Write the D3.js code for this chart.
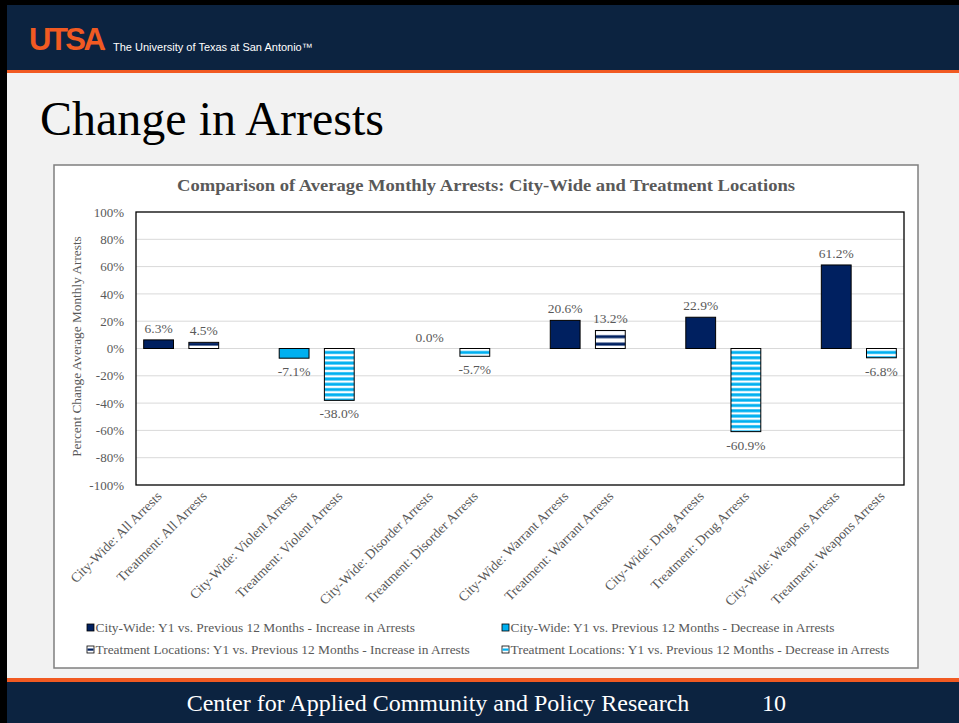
<!DOCTYPE html>
<html>
<head>
<meta charset="utf-8">
<script src="https://cdn.jsdelivr.net/npm/d3@7"></script>
<style>
  html, body { margin: 0; padding: 0; background: #000; }
  svg { display: block; }
</style>
</head>
<body>
<svg id="slide" width="959" height="723"></svg>
<script>
// Arrest change by type, Y1 vs previous 12 months
const arrestTypes = ['All', 'Violent', 'Disorder', 'Warrant', 'Drug', 'Weapons'];
const cityWideChange = [6.3, -7.1, 0.0, 20.6, 22.9, 61.2];
const treatmentChange = [4.5, -38.0, -5.7, 13.2, -60.9, -6.8];
const yTicks = [-100, -80, -60, -40, -20, 0, 20, 40, 60, 80, 100];
const legendLabels = [
  'City-Wide: Y1 vs. Previous 12 Months - Increase in Arrests',
  'City-Wide: Y1 vs. Previous 12 Months -  Decrease in Arrests',
  'Treatment Locations: Y1 vs. Previous 12 Months - Increase in Arrests',
  'Treatment Locations: Y1 vs. Previous 12 Months - Decrease in Arrests'
];

const NAVY = '#002060';
const SKY = '#00b0f0';
const GREY_TEXT = '#595959';
const SERIF = '"Liberation Serif", "Times New Roman", serif';
const SANS = '"Liberation Sans", Arial, sans-serif';

// flatten into bar records, with a blank slot between each pair
const bars = [];
const slots = [];
arrestTypes.forEach(function(t, i) {
  if (i > 0) slots.push('gap-' + i);
  bars.push({ key: 'cw-' + i, label: 'City-Wide: ' + t + ' Arrests', value: cityWideChange[i], site: 'cw' });
  bars.push({ key: 'tr-' + i, label: 'Treatment: ' + t + ' Arrests', value: treatmentChange[i], site: 'tr' });
  slots.push('cw-' + i, 'tr-' + i);
});

const svg = d3.select('#slide');

// page background
svg.append('rect').attr('x', 7).attr('y', 5).attr('width', 952).attr('height', 718).attr('fill', '#f2f2f2');

// header
svg.append('rect').attr('x', 7).attr('y', 5).attr('width', 952).attr('height', 65).attr('fill', '#0c2340');
svg.append('rect').attr('x', 7).attr('y', 70).attr('width', 952).attr('height', 3).attr('fill', '#f15a22');
svg.append('text')
  .attr('x', 29).attr('y', 50)
  .attr('font-family', SANS).attr('font-weight', 'bold')
  .attr('font-size', 31).attr('letter-spacing', -2.5)
  .attr('fill', '#f15a22')
  .text('UTSA');
svg.append('circle').attr('cx', 104).attr('cy', 49).attr('r', 1.3).attr('fill', '#f15a22');
svg.append('text')
  .attr('x', 113).attr('y', 51)
  .attr('font-family', SANS).attr('font-size', 11)
  .attr('fill', '#fff')
  .text('The University of Texas at San Antonio\u2122');

// slide title
svg.append('text')
  .attr('x', 40).attr('y', 135)
  .attr('font-family', SERIF).attr('font-size', 48)
  .attr('fill', '#000')
  .text('Change in Arrests');

// footer
svg.append('rect').attr('x', 7).attr('y', 678).attr('width', 952).attr('height', 4).attr('fill', '#f15a22');
svg.append('rect').attr('x', 7).attr('y', 682).attr('width', 952).attr('height', 41).attr('fill', '#0c2340');
svg.append('text')
  .attr('x', 438).attr('y', 711)
  .attr('text-anchor', 'middle')
  .attr('font-family', SERIF).attr('font-size', 24)
  .attr('fill', '#fff')
  .text('Center for Applied Community and Policy Research');
svg.append('text')
  .attr('x', 774).attr('y', 711)
  .attr('text-anchor', 'middle')
  .attr('font-family', SERIF).attr('font-size', 24)
  .attr('fill', '#fff')
  .text('10');

// chart container
svg.append('rect')
  .attr('x', 54).attr('y', 165).attr('width', 864).attr('height', 503)
  .attr('fill', '#fff').attr('stroke', '#7f7f7f').attr('stroke-width', 1.5);

// stripe patterns
const defs = svg.append('defs');
function stripes(id, color, period, band) {
  const p = defs.append('pattern')
    .attr('id', id).attr('patternUnits', 'userSpaceOnUse')
    .attr('width', 8).attr('height', period);
  p.append('rect').attr('width', 8).attr('height', period).attr('fill', '#fff');
  p.append('rect').attr('y', (period - band) / 2).attr('width', 8).attr('height', band).attr('fill', color);
}
stripes('navyStripe', NAVY, 7.4, 3);
stripes('skyStripe', SKY, 5.3, 3);

function fillFor(d) {
  if (d.site === 'cw') return d.value >= 0 ? NAVY : SKY;
  return d.value >= 0 ? 'url(#navyStripe)' : 'url(#skyStripe)';
}

const plot = { left: 136, right: 904, top: 212, bottom: 485 };

const x = d3.scaleBand()
  .domain(slots)
  .range([plot.left, plot.right])
  .paddingInner(0.34)
  .paddingOuter(0.17);

const y = d3.scaleLinear()
  .domain([-100, 100])
  .range([plot.bottom, plot.top]);

// chart title
svg.append('text')
  .attr('x', 486).attr('y', 191)
  .attr('text-anchor', 'middle')
  .attr('font-family', SERIF).attr('font-weight', 'bold').attr('font-size', 16.5)
  .attr('textLength', 618).attr('lengthAdjust', 'spacingAndGlyphs')
  .attr('fill', GREY_TEXT)
  .text('Comparison of Average Monthly Arrests: City-Wide and Treatment Locations');

// gridlines
svg.append('g')
  .selectAll('line')
  .data(yTicks.filter(function(t) { return t > -100 && t < 100; }))
  .join('line')
  .attr('x1', plot.left).attr('x2', plot.right)
  .attr('y1', function(t) { return y(t); }).attr('y2', function(t) { return y(t); })
  .attr('stroke', '#d9d9d9').attr('stroke-width', 1);

// y axis labels
const yAxis = svg.append('g')
  .attr('transform', `translate(${plot.left - 3},0)`)
  .call(d3.axisLeft(y).tickValues(yTicks).tickSize(0).tickPadding(9)
    .tickFormat(function(t) { return t + '%'; }));
yAxis.select('.domain').remove();
yAxis.selectAll('text')
  .attr('font-family', SERIF).attr('font-size', 13).attr('fill', GREY_TEXT);

// y axis title
svg.append('text')
  .attr('transform', `translate(81, ${(plot.top + plot.bottom) / 2 - 2}) rotate(-90)`)
  .attr('text-anchor', 'middle')
  .attr('font-family', SERIF).attr('font-size', 13.3)
  .attr('fill', GREY_TEXT)
  .text('Percent Change Average Monthly Arrests');

// bars
svg.append('g')
  .selectAll('rect')
  .data(bars.filter(function(d) { return d.value !== 0; }))
  .join('rect')
  .attr('x', function(d) { return x(d.key); })
  .attr('width', x.bandwidth())
  .attr('y', function(d) { return y(Math.max(0, d.value)); })
  .attr('height', function(d) { return Math.abs(y(d.value) - y(0)); })
  .attr('fill', fillFor)
  .attr('stroke', '#000').attr('stroke-width', 1);

// data labels
svg.append('g')
  .selectAll('text')
  .data(bars)
  .join('text')
  .attr('x', function(d) { return x(d.key) + x.bandwidth() / 2; })
  .attr('y', function(d) { return d.value >= 0 ? y(d.value) - 7 : y(d.value) + 18; })
  .attr('text-anchor', 'middle')
  .attr('font-family', SERIF).attr('font-size', 13.5)
  .attr('fill', GREY_TEXT)
  .text(function(d) { return d.value.toFixed(1) + '%'; });

// plot border
svg.append('rect')
  .attr('x', plot.left).attr('y', plot.top)
  .attr('width', plot.right - plot.left).attr('height', plot.bottom - plot.top)
  .attr('fill', 'none').attr('stroke', '#000').attr('stroke-width', 1.3);

// category labels, rotated
svg.append('g')
  .selectAll('text')
  .data(bars)
  .join('text')
  .attr('transform', function(d) {
    const cx = x(d.key) + x.bandwidth() / 2 + 4;
    return `translate(${cx}, 497) rotate(-45)`;
  })
  .attr('text-anchor', 'end')
  .attr('font-family', SERIF).attr('font-size', 13.6)
  .attr('fill', GREY_TEXT)
  .text(function(d) { return d.label; });

// legend
const legendPos = [[87, 628], [502, 628], [87, 650], [502, 650]];
const legendFill = [NAVY, SKY, 'url(#navyStripe)', 'url(#skyStripe)'];
const legend = svg.append('g')
  .selectAll('g')
  .data(legendLabels)
  .join('g')
  .attr('transform', function(d, i) { return `translate(${legendPos[i][0]}, ${legendPos[i][1]})`; });
legend.append('rect')
  .attr('x', 0).attr('y', -4).attr('width', 7).attr('height', 7)
  .attr('fill', function(d, i) { return i < 2 ? legendFill[i] : '#fff'; })
  .attr('stroke', '#000').attr('stroke-width', 0.8);
legend.filter(function(d, i) { return i >= 2; })
  .append('rect')
  .attr('x', 0.5).attr('y', -1.5).attr('width', 6).attr('height', 2.2)
  .attr('fill', function(d, i) { return i === 0 ? NAVY : SKY; });
legend.append('text')
  .attr('x', 8.5).attr('y', 4)
  .attr('font-family', SERIF).attr('font-size', 13.4)
  .attr('fill', GREY_TEXT)
  .text(function(d) { return d; });
</script>
</body>
</html>
